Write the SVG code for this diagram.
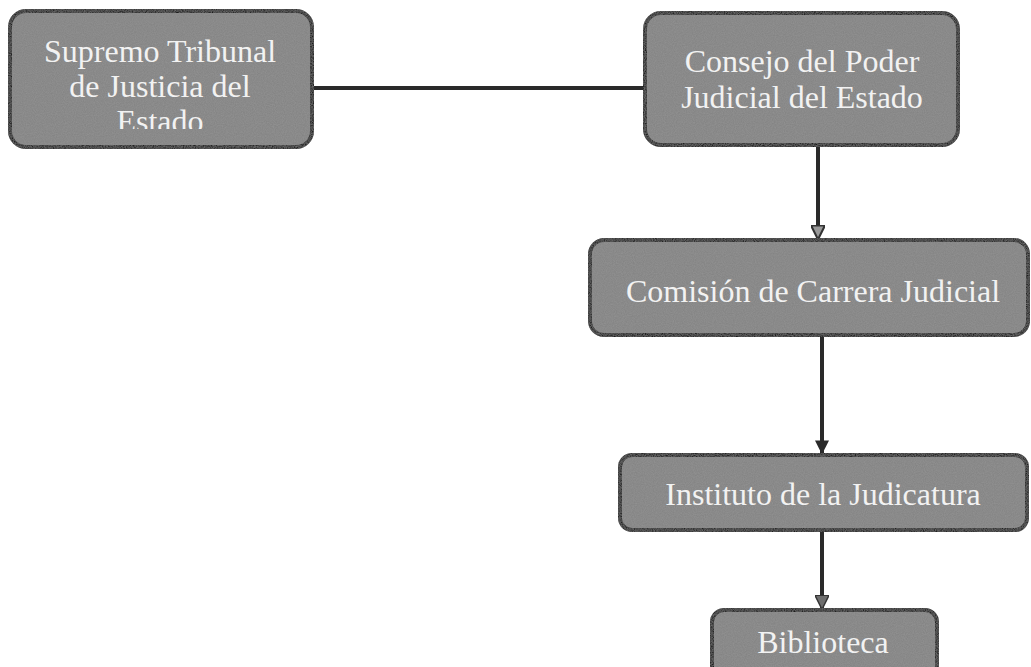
<svg xmlns="http://www.w3.org/2000/svg" width="1031" height="667" viewBox="0 0 1031 667">
  <style>
    .box { fill: #858585; stroke: #242424; stroke-width: 4; }
    .grain { filter: url(#speckle); }
    .label { font-family: "Liberation Serif", "Times New Roman", serif; font-size: 32px; fill: #f2f2f2; text-anchor: middle; }
    .link { stroke: #2a2a2a; stroke-width: 4; fill: none; }
  </style>
  <defs>
    <!-- light speckle to give the box fills a printed texture -->
    <filter id="speckle" x="-5%" y="-10%" width="110%" height="120%">
      <feTurbulence type="fractalNoise" baseFrequency="0.9" numOctaves="2" seed="3" result="noise"/>
      <feColorMatrix in="noise" type="matrix" values="0 0 0 0 0.35  0 0 0 0 0.35  0 0 0 0 0.35  0 0 0 0.6 -0.12" result="dots"/>
      <feComposite in="dots" in2="SourceGraphic" operator="in" result="clipped"/>
      <feMerge>
        <feMergeNode in="SourceGraphic"/>
        <feMergeNode in="clipped"/>
      </feMerge>
    </filter>
    <marker id="arrowGray" viewBox="0 0 10 10" refX="9" refY="5" markerWidth="3.5" markerHeight="3.5" orient="auto" markerUnits="strokeWidth">
      <path d="M0,0 L10,5 L0,10 Z" fill="#9a9a9a" stroke="#333" stroke-width="1.5"/>
    </marker>
    <marker id="arrowDark" viewBox="0 0 10 10" refX="9" refY="5" markerWidth="3.5" markerHeight="3.5" orient="auto" markerUnits="strokeWidth">
      <path d="M0,0 L10,5 L0,10 Z" fill="#2a2a2a"/>
    </marker>
    <marker id="arrowMid" viewBox="0 0 10 10" refX="9" refY="5" markerWidth="3.5" markerHeight="3.5" orient="auto" markerUnits="strokeWidth">
      <path d="M0,0 L10,5 L0,10 Z" fill="#6e6e6e" stroke="#333" stroke-width="1"/>
    </marker>
    <clipPath id="clipTribunal">
      <rect x="12" y="12" width="298" height="117"/>
    </clipPath>
  </defs>

  <!-- connectors -->
  <g id="connectors">
    <line class="link" x1="312" y1="88" x2="645" y2="88"/>
    <line class="link" x1="818" y1="145" x2="818" y2="238" marker-end="url(#arrowGray)"/>
    <line class="link" x1="822" y1="335" x2="822" y2="453" marker-end="url(#arrowDark)"/>
    <line class="link" x1="822" y1="530" x2="822" y2="608" marker-end="url(#arrowMid)"/>
  </g>

  <!-- Supremo Tribunal de Justicia del Estado -->
  <g id="node-tribunal">
    <rect class="box grain" x="10" y="11" width="302" height="136" rx="16"/>
    <g clip-path="url(#clipTribunal)">
      <text class="label" x="160" y="62">Supremo Tribunal</text>
      <text class="label" x="160" y="97">de Justicia del</text>
      <text class="label" x="160" y="132">Estado</text>
    </g>
  </g>

  <!-- Consejo del Poder Judicial del Estado -->
  <g id="node-consejo">
    <rect class="box grain" x="645" y="13" width="313" height="132" rx="16"/>
    <text class="label" x="802" y="72">Consejo del Poder</text>
    <text class="label" x="802" y="108">Judicial del Estado</text>
  </g>

  <!-- Comisión de Carrera Judicial -->
  <g id="node-comision">
    <rect class="box grain" x="590" y="240" width="438" height="95" rx="14"/>
    <text class="label" x="813" y="302">Comisión de Carrera Judicial</text>
  </g>

  <!-- Instituto de la Judicatura -->
  <g id="node-instituto">
    <rect class="box grain" x="620" y="455" width="407" height="75" rx="12"/>
    <text class="label" x="823" y="505">Instituto de la Judicatura</text>
  </g>

  <!-- Biblioteca -->
  <g id="node-biblioteca">
    <rect class="box grain" x="712" y="610" width="225" height="70" rx="12"/>
    <text class="label" x="823" y="653">Biblioteca</text>
  </g>
</svg>
